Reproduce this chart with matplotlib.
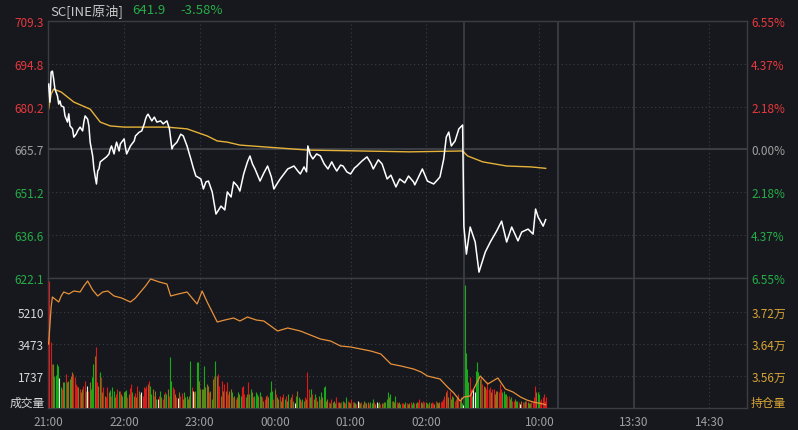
import matplotlib.pyplot as plt

plt.rcParams['font.family'] = ['Noto Sans CJK SC', 'DejaVu Sans']

# 分时价格 (分钟序号, 价格), 0 = 21:00, 330 = 09:00
price_t = [0, 1, 2, 3, 4, 5, 7, 8, 9, 10, 12, 13, 15, 16, 17, 19, 20, 22, 23, 25,
           27, 28, 29, 31, 32, 33, 35, 36, 37, 38, 39, 40, 41, 44, 46, 48, 49, 50, 52, 53,
           54, 56, 57, 60, 61, 62, 65, 68, 69, 72, 74, 76, 77, 78, 79, 82, 84, 86, 89, 91,
           94, 96, 98, 99, 102, 105, 107, 110, 113, 115, 117, 121, 123,
           125, 127, 130, 133, 137, 140, 142, 145, 147, 150, 152, 155, 158, 160, 162, 164, 168, 171, 174, 177, 179,
           182, 184, 187, 190, 195, 198, 200, 203, 205, 206, 208, 210, 213, 216, 219, 222, 225, 227, 229, 232,
           234, 237, 240, 243, 245, 249, 253, 256, 258, 262, 265, 269, 272, 276, 279, 283, 286, 290, 291, 294,
           297, 301, 306, 309, 311, 314, 316, 318, 320, 323, 326, 329,
           330, 332, 335, 339, 342, 347, 351, 356, 360, 364, 368, 373, 376, 381, 385, 387, 389, 393, 395]
price_v = [687.9, 681.8, 692.0, 692.3, 689.6, 686.2, 683.9, 681.1, 682.2, 680.5, 680.1, 677.1, 675.0, 677.8, 673.7, 672.7, 669.9, 671.0, 672.0, 673.3,
           672.0, 675.0, 677.1, 676.0, 673.7, 668.2, 663.5, 659.1, 656.4, 654.0, 658.4, 659.1, 661.5, 662.5, 663.2, 664.2, 665.9, 666.9, 664.2, 666.5,
           668.2, 665.2, 667.6, 669.3, 666.5, 664.2, 666.9, 668.6, 670.3, 671.6, 672.0, 674.4, 676.0, 677.1, 677.7, 675.4, 676.7, 675.0, 675.4, 674.4,
           675.4, 672.7, 665.9, 666.9, 668.2, 670.9, 670.3, 666.9, 662.5, 659.4, 656.7, 655.7, 652.3,
           654.7, 655.0, 651.3, 643.8, 646.5, 645.2, 651.3, 649.6, 654.7, 653.3, 651.6, 657.4, 661.5, 663.5, 660.8, 659.1, 655.0, 657.7, 660.1, 656.4, 652.3,
           654.4, 655.7, 657.4, 659.1, 660.1, 658.4, 657.4, 659.8, 658.1, 666.9, 663.9, 662.5, 664.2, 663.5, 660.8, 659.1, 661.5, 659.8, 658.4, 660.4,
           660.1, 658.1, 657.4, 659.4, 660.1, 661.8, 663.2, 661.1, 659.1, 662.2, 660.8, 655.7, 657.0, 653.0, 655.7, 654.4, 656.7, 654.7, 653.7, 656.4,
           659.1, 655.0, 654.0, 655.4, 656.4, 662.5, 669.9, 671.6, 666.9, 668.6, 672.7, 674.0,
           639.7, 630.2, 639.4, 634.3, 624.1, 630.9, 634.3, 638.0, 641.4, 634.3, 639.4, 634.7, 637.7, 638.7, 637.0, 645.5, 642.8, 639.7, 641.9]

# 均价线
avg_t = [0, 2, 4, 10, 20, 33, 41, 49, 60, 79, 94, 110, 126, 134, 142, 152, 174, 206, 248, 287,
         329, 333, 345, 364, 383, 393, 395]
avg_v = [679.4, 684.5, 686.2, 685.2, 681.8, 679.4, 675.0, 673.7, 673.3, 673.3, 673.3, 672.7, 670.3, 668.6, 668.2, 667.2, 666.5, 665.5, 665.2, 664.9,
         665.2, 663.5, 661.5, 660.1, 659.8, 659.4, 659.3]

# 持仓量
oi_t = [0, 2, 3, 6, 8, 10, 12, 16, 20, 25, 28, 31, 35, 39, 43, 47, 52, 58, 65, 69, 73, 77, 81, 88, 94, 97,
        103, 110, 114, 118, 122, 126, 134, 140, 147, 152, 158, 165, 171, 182, 190, 200, 208, 216, 224, 232, 240, 248,
        256, 264, 272, 280, 290, 296, 301, 311, 317, 322, 327,
        330, 335, 343, 349, 357, 363, 369, 375, 380, 385, 393, 395]
oi_v = [36400, 37325, 37575, 37500, 37450, 37600, 37700, 37650, 37725, 37700, 37850, 37975, 37750, 37600, 37700, 37725, 37600, 37550, 37450, 37550, 37700, 37850, 38025, 37950, 37900, 37600,
        37650, 37700, 37550, 37400, 37725, 37450, 36950, 37000, 37050, 36975, 37075, 37000, 36975, 36725, 36800, 36725, 36625, 36525, 36475, 36350, 36325, 36275,
        36225, 36150, 35900, 35850, 35775, 35700, 35600, 35525, 35325, 35175, 34975,
        35075, 35100, 35600, 35400, 35550, 35275, 35200, 35075, 35000, 34950, 34900, 34880]

# 成交量 (每分钟一根)
volume = [6900, 3600, 2400, 2390, 1750, 1800, 2390, 2300, 1610, 1120,
          1030, 1390, 1390, 1850, 1430, 1480, 1570, 1750, 1940, 1850,
          1670, 1300, 1210, 1120, 1030, 850, 1030, 1210, 1480, 940,
          1210, 940, 1390, 1030, 1670, 2390, 2840, 3300, 1390, 1210,
          1940, 1670, 850, 1120, 670, 580, 1120, 850, 1000, 670,
          1120, 940, 580, 760, 1030, 940, 940, 760, 670, 890,
          940, 1000, 580, 760, 1070, 1300, 850, 670, 800, 580,
          1210, 940, 760, 850, 670, 1120, 1070, 1210, 1300, 1480,
          1210, 760, 1030, 670, 940, 490, 490, 670, 940, 580,
          490, 760, 850, 760, 1030, 670, 2750, 1480, 1120, 1030,
          760, 580, 540, 850, 670, 815, 490, 850, 600,
          670, 490, 670, 2570, 1120, 940, 850, 940, 2480, 2480,
          1480, 1030, 1030, 1030, 2300, 1120, 1300, 1210, 850, 940,
          490, 1570, 1750, 2570, 1750, 1850, 1210, 670, 1480, 940,
          1300, 940, 1390, 760, 940, 1030, 890, 580, 670, 490,
          580, 850, 760, 670, 1120, 1210, 760, 580, 760, 1390,
          760, 1030, 850, 580, 670, 850, 760, 670, 850, 670,
          580, 400, 490, 670, 700, 580, 850, 1480, 940, 490,
          1030, 760, 580, 490, 670, 400, 580, 760, 490, 670,
          400, 760, 490, 580, 760, 400, 270, 670, 940, 580,
          490, 400, 490, 400, 580, 490, 1940, 1030, 580, 1030,
          760, 490, 760, 580, 400, 670, 490, 850, 580, 1120,
          1180, 400, 490, 310, 270, 490, 350, 400, 270, 580,
          350, 310, 270, 350, 400, 310, 270, 580, 400, 310,
          270, 490, 350, 310, 270, 220, 400, 310, 270, 310,
          220, 400, 310, 270, 350, 220, 310, 270, 490, 310,
          220, 350, 270, 310, 220, 270, 270, 310, 350, 490,
          850, 580, 760, 400, 400, 310, 670, 350, 270, 310,
          220, 270, 270, 220, 310, 270, 220, 270, 310, 220,
          350, 270, 270, 310, 350, 490, 310, 270, 400, 310,
          310, 270, 220, 350, 270, 310, 270, 220, 400, 310,
          270, 310, 350, 400, 490, 670, 850, 1000, 580, 940,
          490, 670, 580, 400, 490, 580, 760, 400, 580, 270,
          150,
          6700, 3000, 2100, 1400, 1670, 1030, 670, 1030, 850, 2000,
          2500, 1940, 1570, 1670, 1300, 1210, 1120, 1030, 1390, 1030,
          1120, 850, 1030, 1030, 760, 940, 940, 850, 1300, 1030,
          850, 940, 760, 760, 670, 670, 490, 580, 400, 400,
          490, 400, 400, 300, 220, 400, 300, 300, 400, 400,
          300, 270, 270, 300, 300, 580, 1210, 850, 850, 760,
          400, 490, 580, 760, 400, 580]
# r 涨 / g 跌 / o 混合 / w 平
vol_side = ("rrrgggggwg" "rogrgogoor" "rrrorogrro" "wrogggorro" "grororrogr"
            "ggorrgrogo" "ggrorrgoro" "roowrrrror" "ggorogwrgo" "rgrgorggrr"
            "orworrog" "o"
            "googrwoogg" "oogogoooro" "gorgorroro" "rorroogror" "ogogrrrgor"
            "ggorgggogo" "rgrorogggr" "orgorgorgr" "ogrorgwgog" "orggrorrog"
            "rogrogrgog"
            "goorgroogr" "rogrgorgro" "grrogrwogr" "ogroorgogr" "owgorgrogg"
            "gogrgogroo" "grrogroorg" "grogrrogrr" "ogrgorrorg" "oorrrroror"
            "gogrrorgog" "w"
            "ggggrrgwwg" "gggrroorrr" "rorrooorrr" "ggggrrogrr" "oggrworrgr"
            "oggrrrrogg" "rrrrrr")

ticks_t = [0, 60, 120, 180, 240, 300, 390, 465, 525]
ticks_lbl = ['21:00', '22:00', '23:00', '00:00', '01:00', '02:00', '10:00', '13:30', '14:30']
solid_t = [330, 405, 465]
dotted_t = [60, 120, 180, 240, 300, 390, 525]

p_ticks = [622.1, 636.6, 651.2, 665.7, 680.2, 694.8, 709.3]
pct_lbl = ['6.55%', '4.37%', '2.18%', '0.00%', '2.18%', '4.37%', '6.55%']
vol_ticks = [1737, 3473, 5210]
oi_ticks = [35600, 36400, 37200]
oi_lbl = ['3.56万', '3.64万', '3.72万']

BG = '#16181d'
GRID = '#3a3d44'
RED = '#e8383d'
GREEN = '#27ad48'
GRAY = '#a0a0a0'
GOLD = '#d9a535'
bar_colors = {'r': '#e01a1a', 'g': '#18aa18', 'o': '#8a731a', 'w': '#f0f0f0'}

fig = plt.figure(figsize=(7.98, 4.31), dpi=100, facecolor=BG)
W, H = 798, 431
left, right = 48 / W, 747 / W
ax1 = fig.add_axes([left, 1 - 279 / H, right - left, 257 / H], facecolor=BG)
ax2 = fig.add_axes([left, 1 - 409 / H, right - left, 130 / H], facecolor=BG, sharex=ax1)

for ax in (ax1, ax2):
    for s in ax.spines.values():
        s.set_color(GRID)
        s.set_linewidth(1)
    for t in solid_t:
        ax.axvline(t, color=GRID, lw=1.3, zorder=0)
    for t in dotted_t:
        ax.axvline(t, color=GRID, lw=0.8, ls=(0, (1, 2.5)), zorder=0)
    ax.tick_params(length=0, labelsize=8.5)

ax1.set_xlim(-0.5, 555)

# 价格区
for p in p_ticks[1:-1]:
    if p == 665.7:
        ax1.axhline(p, color=GRID, lw=1.5, zorder=0)
    else:
        ax1.axhline(p, color=GRID, lw=0.8, ls=(0, (1, 2.5)), zorder=0)
ax1.plot(avg_t, avg_v, color='#e6b23a', lw=1, zorder=2)
ax1.plot(price_t, price_v, color='white', lw=1.1, zorder=3)
ax1.set_ylim(622.1, 709.3)
ax1.set_yticks(p_ticks)
ax1.set_yticklabels([f'{p:.1f}' for p in p_ticks])
ax1.tick_params(axis='x', labelbottom=False)
ax1.tick_params(axis='y', pad=3)
for lbl, p in zip(ax1.get_yticklabels(), p_ticks):
    lbl.set_color(RED if p > 665.7 else (GRAY if p == 665.7 else GREEN))

ax1r = ax1.twinx()
ax1r.set_ylim(622.1, 709.3)
ax1r.set_yticks(p_ticks)
ax1r.set_yticklabels(pct_lbl)
ax1r.tick_params(length=0, labelsize=8.5, pad=3)
for s in ax1r.spines.values():
    s.set_visible(False)
for lbl, p in zip(ax1r.get_yticklabels(), p_ticks):
    lbl.set_color(RED if p > 665.7 else (GRAY if p == 665.7 else GREEN))

# 成交量区: 每分钟一根细柱, 画成竖线
for v in vol_ticks:
    ax2.axhline(v, color=GRID, lw=0.8, ls=(0, (1, 2.5)), zorder=0)
xs = [i + 0.6 for i in range(len(volume))]
ax2.vlines(xs, 0, volume, colors=[bar_colors[c] for c in vol_side[:len(volume)]],
           linewidth=0.8, zorder=3)
ax2.set_ylim(0, 7057)
ax2.set_yticks(vol_ticks)
ax2.set_yticklabels([str(v) for v in vol_ticks], color='#d8d8d8')
ax2.tick_params(axis='y', pad=3)
ax2.set_xticks(ticks_t)
ax2.set_xticklabels(ticks_lbl, color=GRAY)
ax2.tick_params(axis='x', pad=5)
ax2.text(-0.005, 0.045, '成交量', transform=ax2.transAxes, ha='right', va='center',
         color='#d8d8d8', fontsize=8.5)

ax2r = ax2.twinx()
ax2r.plot(oi_t, oi_v, color='#e8913a', lw=0.9, zorder=3)
ax2r.set_ylim(34800, 38050)
ax2r.set_yticks(oi_ticks)
ax2r.set_yticklabels(oi_lbl, color=GOLD)
ax2r.tick_params(length=0, labelsize=8.5, pad=3)
for s in ax2r.spines.values():
    s.set_visible(False)
ax2r.text(1.005, 0.045, '持仓量', transform=ax2.transAxes, ha='left', va='center',
          color=GOLD, fontsize=8.5)

# 标题
fig.text(50 / W, 1 - 11 / H, 'SC[INE原油]', color='#c8c8c8', fontsize=9.5, va='center')
fig.text(132 / W, 1 - 11 / H, '641.9', color=GREEN, fontsize=9.5, va='center')
fig.text(180 / W, 1 - 11 / H, '-3.58%', color=GREEN, fontsize=9.5, va='center')

plt.savefig('out.png', dpi=100, facecolor=BG)
